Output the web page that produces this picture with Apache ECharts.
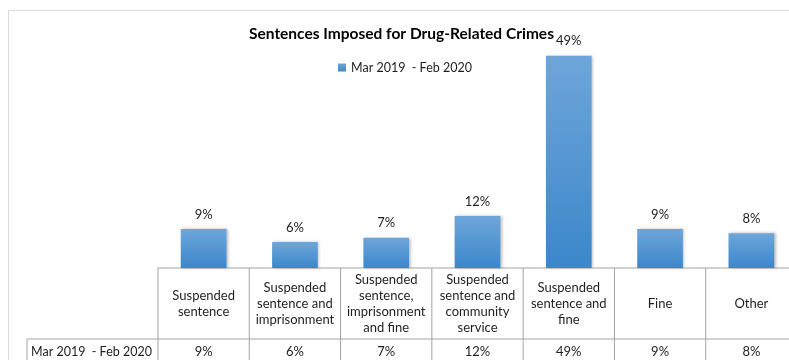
<!DOCTYPE html>
<html>
<head>
<meta charset="utf-8">
<title>Sentences Imposed for Drug-Related Crimes</title>
<script src="https://cdn.jsdelivr.net/npm/echarts@6/dist/echarts.min.js"></script>
<style>
  html, body { margin: 0; padding: 0; background: #ffffff; }
  #chart { width: 789px; height: 360px; }
</style>
</head>
<body>
<div id="chart"></div>
<script>
// Sentence categories (line breaks as shown in the data table header)
const categories = [
  'Suspended\nsentence',
  'Suspended\nsentence and\nimprisonment',
  'Suspended\nsentence,\nimprisonment\nand fine',
  'Suspended\nsentence and\ncommunity\nservice',
  'Suspended\nsentence and\nfine',
  'Fine',
  'Other'
];
// Share of sentences, percent
const shares = [9, 6, 7, 12, 49, 9, 8];
const seriesName = 'Mar 2019  - Feb 2020';
const chartTitle = 'Sentences Imposed for Drug-Related Crimes';

const FONT = 'Lato, "Noto Sans", sans-serif';
const TEXT = '#1f1f1f';
const RULE = '#a3a3a3';
const HEADER_ROW_H = 71;
const VALUE_ROW_H = 28;
const ROW_LABEL_W = 131;

const chart = echarts.init(document.getElementById('chart'), null, { renderer: 'canvas' });

// Data table under the plot, aligned to the category bands of the x axis
function renderTableCell(params, api) {
  const idx = api.value(0);
  const val = api.value(1);
  const base = api.coord([idx, 0]);
  const bandW = api.size([1, 0])[0];
  const x0 = base[0] - bandW / 2;
  const x1 = x0 + bandW;
  const y0 = base[1];
  const y1 = y0 + HEADER_ROW_H;
  const y2 = y1 + VALUE_ROW_H;
  const line = { stroke: RULE, lineWidth: 1 };
  const children = [
    { type: 'line', shape: { x1: x0, y1: y0, x2: x1, y2: y0 }, style: line },
    { type: 'line', shape: { x1: x0, y1: y1, x2: x1, y2: y1 }, style: line },
    { type: 'line', shape: { x1: x0, y1: y0, x2: x0, y2: y2 }, style: line },
    { type: 'text', style: {
        text: categories[idx], x: base[0], y: (y0 + y1) / 2,
        align: 'center', verticalAlign: 'middle',
        font: '13px ' + FONT, fill: TEXT, lineHeight: 16
    } },
    { type: 'text', style: {
        text: val + '%', x: base[0], y: y1 + 13,
        align: 'center', verticalAlign: 'middle',
        font: '13px ' + FONT, fill: TEXT
    } }
  ];
  if (idx === categories.length - 1) {
    children.push({ type: 'line', shape: { x1: x1, y1: y0, x2: x1, y2: y2 }, style: line });
  }
  if (idx === 0) {
    const xl = x0 - ROW_LABEL_W;
    children.push(
      { type: 'line', shape: { x1: xl, y1: y1, x2: x0, y2: y1 }, style: line },
      { type: 'line', shape: { x1: xl, y1: y1, x2: xl, y2: y2 }, style: line },
      { type: 'text', style: {
          text: seriesName, x: xl + 4, y: y1 + 13,
          align: 'left', verticalAlign: 'middle',
          font: '12.5px ' + FONT, fill: TEXT
      } }
    );
  }
  return { type: 'group', children: children };
}

const option = {
  animation: false,
  backgroundColor: '#ffffff',
  graphic: [
    { type: 'rect', left: 6, top: 8, shape: { width: 820, height: 400 },
      style: { fill: 'none', stroke: '#d9d9d9', lineWidth: 1 }, silent: true, z: -10 }
  ],
  title: {
    text: chartTitle,
    left: 249, top: 26, padding: 0,
    textStyle: { fontFamily: FONT, fontSize: 15.5, fontWeight: 'bold', color: '#000000' }
  },
  legend: {
    data: [seriesName],
    left: 338, top: 61, padding: 0,
    icon: 'rect', itemWidth: 8, itemHeight: 8, itemGap: 5,
    textStyle: { fontFamily: FONT, fontSize: 12.5, color: TEXT }
  },
  grid: {
    left: 158, top: 8, width: 639, height: 260,
    outerBoundsMode: 'none', containLabel: false
  },
  xAxis: {
    type: 'category',
    data: categories,
    axisLine: { show: false },
    axisTick: { show: false },
    axisLabel: { show: false },
    splitLine: { show: false }
  },
  yAxis: {
    type: 'value',
    min: 0, max: 60,
    show: false
  },
  series: [
    {
      name: seriesName,
      type: 'bar',
      data: shares,
      barWidth: '50%',
      itemStyle: {
        color: new echarts.graphic.LinearGradient(0, 0, 0, 1, [
          { offset: 0, color: '#6ea6da' },
          { offset: 1, color: '#3b87ca' }
        ]),
        shadowColor: 'rgba(0,0,0,0.28)',
        shadowBlur: 3,
        shadowOffsetX: 1.5,
        shadowOffsetY: 0
      },
      label: {
        show: true,
        position: 'top',
        distance: 8,
        formatter: p => p.value + '%',
        fontFamily: FONT,
        fontSize: 13,
        color: TEXT
      }
    },
    {
      type: 'custom',
      name: 'table',
      data: shares.map((v, i) => [i, v]),
      renderItem: renderTableCell,
      clip: false,
      silent: true,
      z: 1
    }
  ]
};

chart.setOption(option);
</script>
</body>
</html>
